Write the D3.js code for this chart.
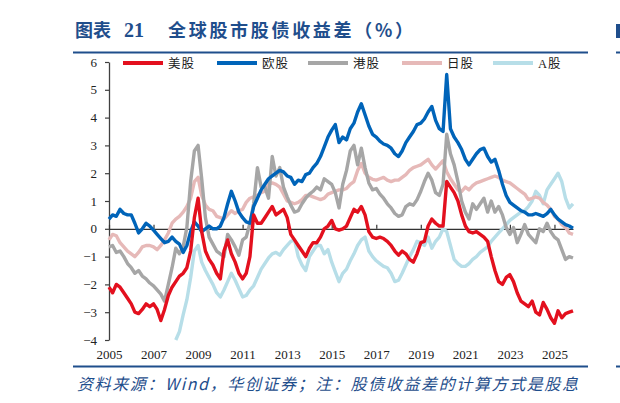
<!DOCTYPE html>
<html><head><meta charset="utf-8">
<script src="https://cdn.jsdelivr.net/npm/d3@7"></script>
<style>html,body{margin:0;padding:0;background:#fff;} svg{display:block;}</style>
</head><body>
<svg id="c" width="620" height="403"></svg>
<script>
// ---------------- data ----------------
const seriesNames  = ["美股", "欧股", "港股", "日股", "A股"];
const seriesColors = ["#E3101E", "#0064B9", "#A6A6A6", "#E6B9B8", "#B7DEE8"];
const xTickYears   = [2005, 2007, 2009, 2011, 2013, 2015, 2017, 2019, 2021, 2023, 2025];
const yTickValues  = [-4, -3, -2, -1, 0, 1, 2, 3, 4, 5, 6];
const firstMonth = "2005-01", lastMonth = "2025-11";   // bimonthly samples: Jan, Mar, May, Jul, Sep, Nov

// one row per year (Jan, Mar, May, Jul, Sep, Nov)
const usSpread = [
  -2.1,-2.3,-2.0,-2.1,-2.3,-2.5,   // 2005
  -2.7,-3.0,-3.05,-2.9,-2.7,-2.8,  // 2006
  -2.7,-2.9,-3.3,-2.9,-2.4,-2.1,   // 2007
  -1.9,-1.7,-1.6,-1.4,-0.8,0.4,    // 2008
  1.1,-0.1,-0.8,-1.1,-1.3,-1.6,    // 2009
  -1.8,-0.8,-0.4,-0.9,-1.2,-1.6,   // 2010
  -1.8,-1.6,-1.0,0.5,0.2,0.2,      // 2011
  0.4,0.6,0.8,0.5,0.6,0.7,         // 2012
  0.4,-0.2,-0.4,-0.6,-0.8,-1.0,    // 2013
  -0.7,-0.5,-0.5,-0.3,0.0,0.1,     // 2014
  0.3,0.0,-0.05,0.0,0.1,0.4,       // 2015
  0.7,0.6,0.8,0.5,-0.1,-0.3,       // 2016
  -0.35,-0.3,-0.35,-0.45,-0.6,-0.8,// 2017
  -0.95,-0.8,-0.9,-1.1,-1.2,-0.9,  // 2018
  -0.5,-0.45,0.1,0.35,0.2,0.1,     // 2019
  0.1,1.7,1.5,1.3,1.0,0.5,         // 2020
  0.1,-0.1,-0.15,-0.1,-0.2,-0.3,   // 2021
  -0.45,-1.0,-1.5,-1.9,-2.0,-1.75, // 2022
  -1.65,-1.9,-2.3,-2.6,-2.7,-2.8,  // 2023
  -2.6,-3.0,-3.1,-2.65,-2.9,-3.2,  // 2024
  -3.4,-2.95,-3.2,-3.05,-3.0,-2.95 // 2025
];
const euSpread = [
  0.35,0.5,0.45,0.7,0.55,0.5,
  0.5,0.2,-0.15,0.0,0.2,0.1,
  -0.05,-0.2,-0.35,-0.5,-0.45,-0.3,
  -0.45,-0.55,-0.85,-0.6,-0.1,0.25,
  0.1,-0.1,0.0,0.1,0.0,0.0,
  0.1,0.4,0.9,1.35,1.0,0.6,
  0.4,0.25,0.2,0.8,1.1,1.4,
  1.6,1.8,1.9,2.0,2.1,2.05,
  1.9,1.85,1.6,1.75,1.7,1.95,
  2.0,2.2,2.35,2.6,2.95,3.3,
  3.55,3.75,3.1,3.3,3.2,3.6,
  3.8,4.2,4.5,4.1,3.7,3.4,
  3.3,3.15,3.05,3.0,2.9,2.7,
  2.6,2.8,3.1,3.3,3.5,3.75,
  3.8,3.95,4.2,4.4,3.9,3.6,
  3.5,5.55,3.6,3.3,3.1,2.85,
  2.5,2.3,2.5,2.7,2.85,2.9,
  2.6,2.4,2.5,2.1,1.6,1.2,
  0.95,0.85,0.75,0.65,0.6,0.5,
  0.5,0.55,0.5,0.45,0.55,0.7,
  0.5,0.35,0.25,0.15,0.1,0.02
];
const hkSpread = [
  -0.65,-0.6,-0.85,-0.8,-1.0,-1.25,
  -1.4,-1.6,-1.5,-1.7,-1.8,-1.95,
  -2.05,-2.2,-2.35,-2.6,-2.0,-1.4,
  -0.7,-0.9,-0.65,0.05,1.7,2.8,
  3.0,1.8,0.4,-0.3,-0.55,-0.8,
  -0.9,-1.0,-0.2,-0.4,-0.65,-0.95,
  -0.4,-0.3,0.2,0.9,2.2,1.5,
  1.5,1.1,2.6,1.9,2.2,1.5,
  1.15,0.85,0.6,0.65,0.9,1.1,
  1.25,1.35,1.5,1.4,1.8,1.7,
  1.6,1.3,0.75,1.6,2.1,2.8,
  3.0,2.3,2.9,2.2,1.65,1.4,
  1.45,1.25,1.1,0.9,0.75,0.55,
  0.45,0.5,0.8,0.9,0.85,1.05,
  1.35,1.7,2.0,1.75,1.3,1.2,
  1.6,3.4,2.7,2.3,1.7,1.0,
  0.6,0.35,0.9,0.7,0.9,1.1,
  0.6,1.0,0.6,0.8,0.5,0.05,
  -0.2,0.05,-0.5,-0.2,0.15,-0.2,
  -0.35,-0.5,0.0,-0.1,0.2,-0.1,
  -0.3,-0.4,-0.75,-1.1,-1.0,-1.05
];
const jpSpread = [
  -0.4,-0.2,-0.25,-0.5,-0.65,-0.8,
  -0.9,-1.0,-0.85,-0.65,-0.6,-0.6,
  -0.65,-0.75,-0.6,-0.4,-0.15,0.2,
  0.35,0.45,0.6,0.8,1.1,1.7,
  1.85,1.2,0.85,0.7,0.65,0.45,
  0.4,0.35,0.5,0.65,0.55,0.65,
  0.7,0.95,1.1,1.15,1.2,1.3,
  1.35,1.6,1.65,1.6,1.5,1.25,
  1.0,0.95,0.9,0.95,1.05,1.2,
  1.2,1.15,1.1,1.05,1.1,1.25,
  1.3,1.35,1.4,1.4,1.45,1.6,
  1.7,2.1,2.35,2.0,1.85,1.78,
  1.75,1.8,1.85,1.75,1.7,1.75,
  1.75,1.85,1.95,2.1,2.2,2.25,
  2.3,2.4,2.5,2.3,2.15,2.3,
  2.45,2.05,1.8,1.6,1.4,1.35,
  1.5,1.4,1.55,1.65,1.7,1.75,
  1.8,1.85,1.9,1.85,1.75,1.7,
  1.65,1.55,1.45,1.35,1.25,1.05,
  1.1,1.15,1.1,0.95,0.85,0.7,
  0.45,0.35,0.15,0.05,-0.15,-0.2
];
const cnSpread = [
  null,null,null,null,null,null,
  null,null,null,null,null,null,
  null,null,null,null,null,null,
  -4.0,-3.7,-3.1,-2.55,-1.75,-0.8,
  -0.6,-1.2,-1.5,-1.75,-2.0,-2.3,
  -2.45,-2.2,-1.9,-1.6,-1.85,-2.15,
  -2.45,-2.4,-2.2,-2.05,-1.75,-1.45,
  -1.25,-1.05,-0.9,-0.85,-0.95,-0.75,
  -0.6,-0.45,-0.4,-1.0,-1.3,-1.5,
  -1.0,-0.8,-0.6,-0.6,-0.9,-0.75,
  -1.2,-1.55,-1.9,-1.6,-1.45,-1.15,
  -0.9,-0.6,-0.4,-0.3,-0.8,-1.0,
  -1.15,-1.25,-1.35,-1.4,-1.6,-1.9,
  -1.85,-1.6,-1.3,-1.0,-0.75,-0.45,
  -0.5,-0.6,-0.3,-0.7,-0.45,-0.3,
  0.0,-0.1,-0.6,-1.1,-1.25,-1.35,
  -1.35,-1.25,-1.1,-1.0,-0.85,-0.75,
  -0.65,-0.45,-0.3,-0.15,0.0,0.15,
  0.3,0.4,0.5,0.6,0.65,0.8,
  1.0,1.35,1.2,0.9,1.4,1.6,
  1.8,2.0,1.7,1.1,0.75,0.9
];
const seriesValues = [usSpread, euSpread, hkSpread, jpSpread, cnSpread];

const titleText  = "全球股市股债收益差（%）";
const sourceText = "资料来源：Wind，华创证券；注：股债收益差的计算方式是股息";

// ---------------- chart ----------------
const parseMonth = d3.timeParse("%Y-%m");
const t0 = parseMonth(firstMonth), t1 = parseMonth(lastMonth);
const dates = d3.timeMonth.every(2).range(t0, d3.timeMonth.offset(t1, 1));

const svg = d3.select("#c");
const navy = "#1F4E8C";
const x = d3.scaleTime().domain([t0, t1]).range([109, 573]);
const y = d3.scaleLinear().domain([-4, 6]).range([340, 62]);

// title
svg.append("text").attr("x", 75).attr("y", 37)
  .attr("font-family", "'Noto Sans CJK SC', sans-serif").attr("font-weight", 700)
  .attr("font-size", 18).attr("fill", navy).text("图表");
svg.append("text").attr("x", 124).attr("y", 37)
  .attr("font-family", "'Liberation Serif', serif").attr("font-weight", 700)
  .attr("font-size", 20).attr("fill", navy).text("21");
svg.append("text").attr("x", 168).attr("y", 37)
  .attr("font-family", "'Noto Sans CJK SC', sans-serif").attr("font-weight", 700)
  .attr("font-size", 18).attr("fill", navy)
  .attr("textLength", 245).attr("lengthAdjust", "spacing").text(titleText);
svg.append("line").attr("x1", 73).attr("x2", 588).attr("y1", 52.5).attr("y2", 52.5)
  .attr("stroke", navy).attr("stroke-width", 2);
// neighbouring panel fragments at the right edge
svg.append("line").attr("x1", 616).attr("x2", 620).attr("y1", 52.5).attr("y2", 52.5)
  .attr("stroke", navy).attr("stroke-width", 2);
svg.append("rect").attr("x", 616).attr("y", 24).attr("width", 4).attr("height", 14).attr("fill", navy);

// y axis
const yAxis = svg.append("g").attr("transform", "translate(109,0)")
  .call(d3.axisLeft(y).tickValues(yTickValues).tickSize(4).tickSizeOuter(0).tickPadding(8));
yAxis.select(".domain").attr("stroke", "#404040").attr("stroke-width", 1.3);
yAxis.selectAll(".tick line").attr("stroke", "#404040").attr("stroke-width", 1.2);
yAxis.selectAll("text").attr("font-family", "'Liberation Serif', serif").attr("font-size", 13).attr("fill", "#222");

// x axis on the zero line (ticks pointing up, no labels)
const tickDates = xTickYears.map(v => parseMonth(v + "-01"));
const xAxis0 = svg.append("g").attr("transform", `translate(0,${y(0)})`)
  .call(d3.axisBottom(x).tickValues(tickDates).tickSizeInner(-4).tickSizeOuter(0).tickFormat(""));
xAxis0.select(".domain").attr("stroke", "#333").attr("stroke-width", 1.2);
xAxis0.selectAll(".tick line").attr("stroke", "#333").attr("stroke-width", 1.2);

// x labels at the bottom
const xAxisB = svg.append("g").attr("transform", `translate(0,${y(-4)})`)
  .call(d3.axisBottom(x).tickValues(tickDates).tickSize(0).tickPadding(10).tickFormat(d3.timeFormat("%Y")));
xAxisB.select(".domain").remove();
xAxisB.selectAll("text").attr("font-family", "'Liberation Serif', serif").attr("font-size", 13).attr("fill", "#222");

// lines (A股 bottom ... 美股 top)
const line = d3.line()
  .defined(d => d.v !== null)
  .x(d => x(d.t)).y(d => y(d.v));
for (let i = seriesNames.length - 1; i >= 0; i--) {
  const pts = dates.map((t, k) => ({t, v: seriesValues[i][k]}));
  svg.append("path").datum(pts).attr("d", line)
    .attr("fill", "none").attr("stroke", seriesColors[i])
    .attr("stroke-width", 3.4).attr("stroke-linejoin", "round");
}

// legend
const legendX = [123, 217, 308, 402, 493];
seriesNames.forEach((n, i) => {
  const g = svg.append("g").attr("transform", `translate(${legendX[i]},63)`);
  g.append("line").attr("x1", 0).attr("x2", 40).attr("stroke", seriesColors[i]).attr("stroke-width", 4);
  g.append("text").attr("x", 45).attr("y", 4.5)
    .attr("font-family", "'Liberation Serif', 'Noto Sans CJK SC', serif")
    .attr("font-size", 12.5).attr("letter-spacing", 1).attr("fill", "#222").text(n);
});

// source
svg.append("line").attr("x1", 73).attr("x2", 588).attr("y1", 366.5).attr("y2", 366.5)
  .attr("stroke", navy).attr("stroke-width", 2);
svg.append("line").attr("x1", 616).attr("x2", 620).attr("y1", 366.5).attr("y2", 366.5)
  .attr("stroke", navy).attr("stroke-width", 2);
svg.append("text").attr("x", 77).attr("y", 390)
  .attr("font-family", "'Noto Sans CJK SC', sans-serif").attr("font-style", "italic")
  .attr("font-size", 16).attr("fill", navy)
  .attr("textLength", 501).attr("lengthAdjust", "spacing").text(sourceText);
</script>
</body></html>
